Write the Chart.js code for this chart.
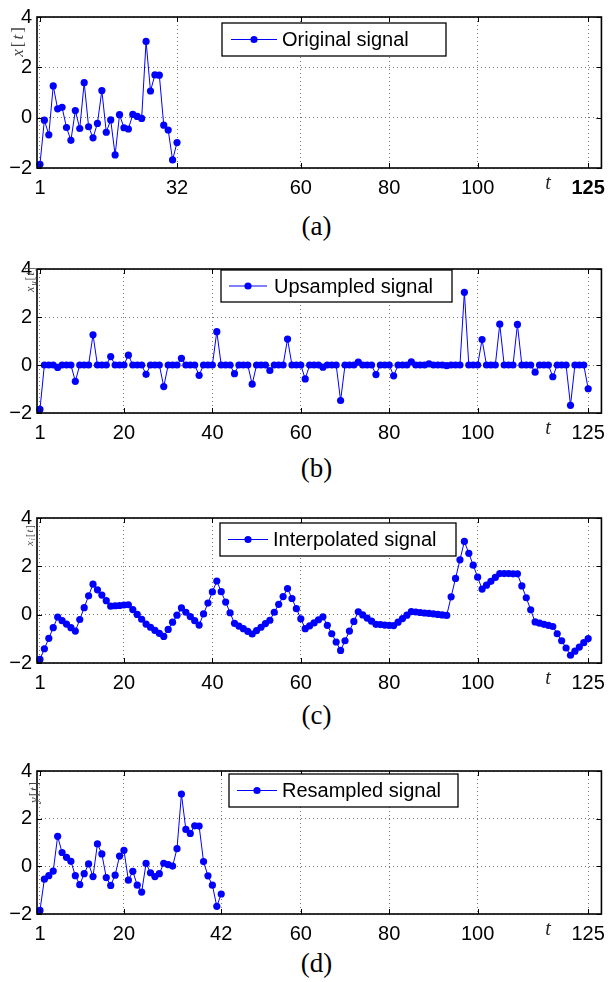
<!DOCTYPE html>
<html>
<head>
<meta charset="utf-8">
<script src="https://cdn.jsdelivr.net/npm/chart.js@4.4.0/dist/chart.umd.min.js"></script>
<style>
  body { margin: 0; background: #fff; }
  #page { position: relative; width: 613px; height: 982px; overflow: hidden; }
  canvas { position: absolute; left: 0; }
  .cap { position: absolute; left: 10px; width: 613px; text-align: center;
         font: 27px "Liberation Serif", "Times New Roman", serif; line-height: 30px; }
</style>
</head>
<body>
<div id="page">
  <canvas id="chartA" width="613" height="198" style="top:0px"></canvas>
  <div class="cap" style="top:211px">(a)</div>
  <canvas id="chartB" width="613" height="191" style="top:252px"></canvas>
  <div class="cap" style="top:453px">(b)</div>
  <canvas id="chartC" width="613" height="192" style="top:501px"></canvas>
  <div class="cap" style="top:700px">(c)</div>
  <canvas id="chartD" width="613" height="190" style="top:754px"></canvas>
  <div class="cap" style="top:948px">(d)</div>
</div>
<script>
// values
const originalSignal = [-1.85, -0.10, -0.68, 1.26, 0.35, 0.41, -0.39, -0.90, 0.28, -0.43,
  1.39, -0.36, -0.80, -0.23, 1.08, -0.58, -0.09, -1.48, 0.12, -0.40, -0.45, 0.13, 0.05,
  -0.03, 3.03, 1.06, 1.70, 1.69, -0.30, -0.49, -1.68, -0.99];

const upsampledSignal = [
  -1.85, 0, 0, 0, -0.10, 0, 0, 0, -0.68, 0, 0, 0, 1.26, 0, 0, 0, 0.35, 0, 0, 0,
  0.41, 0, 0, 0, -0.39, 0, 0, 0, -0.90, 0, 0, 0, 0.28, 0, 0, 0, -0.43, 0, 0, 0,
  1.39, 0, 0, 0, -0.36, 0, 0, 0, -0.80, 0, 0, 0, -0.23, 0, 0, 0, 1.08, 0, 0, 0,
  -0.58, 0, 0, 0, -0.09, 0, 0, 0, -1.48, 0, 0, 0, 0.12, 0, 0, 0, -0.40, 0, 0, 0,
  -0.45, 0, 0, 0, 0.13, 0, 0, 0, 0.05, 0, 0, 0, -0.03, 0, 0, 0, 3.03, 0, 0, 0,
  1.06, 0, 0, 0, 1.70, 0, 0, 0, 1.69, 0, 0, 0, -0.30, 0, 0, 0, -0.49, 0, 0, 0,
  -1.68, 0, 0, 0, -0.99];

const interpolatedSignal = [
  -1.85, -1.41, -0.98, -0.54, -0.10, -0.25, -0.39, -0.54, -0.68, -0.20, 0.29, 0.78,
  1.26, 1.03, 0.81, 0.58, 0.35, 0.37, 0.38, 0.40, 0.41, 0.21, 0.01, -0.19,
  -0.39, -0.52, -0.65, -0.77, -0.90, -0.61, -0.31, -0.02, 0.28, 0.10, -0.08, -0.25,
  -0.43, 0.03, 0.48, 0.94, 1.39, 0.95, 0.52, 0.08, -0.36, -0.47, -0.58, -0.69,
  -0.80, -0.66, -0.52, -0.37, -0.23, 0.10, 0.43, 0.75, 1.08, 0.67, 0.25, -0.17,
  -0.58, -0.46, -0.34, -0.21, -0.09, -0.44, -0.79, -1.13, -1.48, -1.08, -0.68, -0.28,
  0.12, -0.01, -0.14, -0.27, -0.40, -0.41, -0.43, -0.44, -0.45, -0.31, -0.16, -0.02,
  0.13, 0.11, 0.09, 0.07, 0.05, 0.03, 0.01, -0.01, -0.03, 0.74, 1.50, 2.27,
  3.03, 2.54, 2.05, 1.55, 1.06, 1.22, 1.38, 1.54, 1.70, 1.70, 1.70, 1.69,
  1.69, 1.19, 0.70, 0.20, -0.30, -0.35, -0.40, -0.44, -0.49, -0.79, -1.08, -1.38,
  -1.68, -1.51, -1.34, -1.16, -0.99];

const resampledSignal = [-1.85, -0.54, -0.39, -0.20, 1.26, 0.58, 0.38, 0.21, -0.39, -0.77,
  -0.31, 0.10, -0.43, 0.94, 0.52, -0.47, -0.80, -0.37, 0.43, 0.67, -0.58, -0.21,
  -0.79, -1.08, 0.12, -0.27, -0.43, -0.31, 0.13, 0.07, 0.01, 0.74, 3.03, 1.55,
  1.38, 1.70, 1.69, 0.20, -0.40, -0.79, -1.68, -1.16];

const ticksA = [1, 32, 60, 80, 100, 125];
const ticksBC = [1, 20, 40, 60, 80, 100, 125];
const ticksD = [1, 20, 42, 60, 80, 100, 125];
const yTicks = [-2, 0, 2, 4];

const SANS = '"Liberation Sans", Arial, Helvetica, sans-serif';
const SERIF = '"Liberation Serif", "Times New Roman", serif';
const BLUE = '#0000ff';

function drawLegend(ctx, lg) {
  ctx.fillStyle = '#fff';
  ctx.fillRect(lg.x, lg.y, lg.w, lg.h);
  ctx.strokeStyle = '#000';
  ctx.lineWidth = 1.3;
  ctx.strokeRect(lg.x, lg.y, lg.w, lg.h);
  const my = lg.y + lg.h / 2;
  ctx.strokeStyle = BLUE;
  ctx.lineWidth = 1;
  ctx.beginPath();
  ctx.moveTo(lg.l1, my);
  ctx.lineTo(lg.l2, my);
  ctx.stroke();
  ctx.fillStyle = BLUE;
  ctx.beginPath();
  ctx.arc(lg.m, my, 3.6, 0, Math.PI * 2);
  ctx.fill();
  ctx.fillStyle = '#000';
  ctx.font = '20px ' + SANS;
  ctx.textBaseline = 'middle';
  ctx.textAlign = 'left';
  ctx.fillText(lg.text, lg.tx, my + 1);
}

// rotated math-style axis label, e.g. x_u[t]
function drawYLabel(ctx, yl) {
  const parts = [[yl.v, 'i']];
  if (yl.sub) parts.push([yl.sub, 's']);
  parts.push(['[', 'n'], ['t', 'i'], [']', 'n']);
  const fontOf = st => (st === 'n' ? '' : 'italic ') + (st === 's' ? yl.size * 0.7 : yl.size) + 'px ' + SERIF;
  let total = 0;
  parts.forEach(p => { ctx.font = fontOf(p[1]); total += ctx.measureText(p[0]).width + yl.gap; });
  ctx.save();
  ctx.translate(yl.x, yl.y);
  ctx.rotate(-Math.PI / 2);
  ctx.fillStyle = '#444';
  ctx.textBaseline = 'middle';
  ctx.textAlign = 'left';
  let px = -total / 2;
  parts.forEach(p => {
    ctx.font = fontOf(p[1]);
    ctx.fillText(p[0], px, p[1] === 's' ? yl.size * 0.3 : 0);
    px += ctx.measureText(p[0]).width + yl.gap;
  });
  ctx.restore();
}

const panelDeco = {
  id: 'panelDeco',
  afterDraw(chart, args, opts) {
    const ctx = chart.ctx;
    const a = chart.chartArea;
    const xs = chart.scales.x, ys = chart.scales.y;
    ctx.save();
    // tick marks inside the box, like MATLAB
    ctx.strokeStyle = '#000';
    ctx.lineWidth = 1;
    ctx.beginPath();
    xs.ticks.forEach(t => {
      const px = Math.round(xs.getPixelForValue(t.value)) + 0.5;
      ctx.moveTo(px, a.bottom); ctx.lineTo(px, a.bottom - 5);
      ctx.moveTo(px, a.top); ctx.lineTo(px, a.top + 5);
    });
    ys.ticks.forEach(t => {
      const py = Math.round(ys.getPixelForValue(t.value)) + 0.5;
      ctx.moveTo(a.left, py); ctx.lineTo(a.left + 5, py);
      ctx.moveTo(a.right, py); ctx.lineTo(a.right - 5, py);
    });
    ctx.stroke();
    ctx.lineWidth = 1.6;
    ctx.strokeRect(a.left, a.top, a.right - a.left, a.bottom - a.top);

    drawLegend(ctx, opts.legendBox);
    drawYLabel(ctx, opts.yLabel);

    // the t beside the x ticks
    ctx.fillStyle = '#222';
    ctx.font = 'italic 20px ' + SERIF;
    ctx.textAlign = 'center';
    ctx.textBaseline = 'middle';
    ctx.fillText('t', 548, a.bottom + 16);
    ctx.restore();
  }
};

function makePanel(id, values, xTicks, plotH, legendBox, yLabel, boldEnd) {
  const canvas = document.getElementById(id);
  return new Chart(canvas, {
    type: 'line',
    data: {
      datasets: [{
        data: values.map((v, i) => ({ x: i + 1, y: v })),
        borderColor: BLUE,
        borderWidth: 1,
        pointRadius: 3.6,
        pointBackgroundColor: BLUE,
        pointBorderWidth: 0,
        tension: 0,
        clip: false
      }]
    },
    options: {
      responsive: false,
      animation: false,
      layout: { padding: { top: 13, right: 6, left: 0, bottom: 0 } },
      plugins: {
        legend: { display: false },
        tooltip: { enabled: false },
        panelDeco: { legendBox, yLabel }
      },
      scales: {
        x: {
          type: 'linear',
          min: 0.33,
          max: 128,
          afterBuildTicks: axis => { axis.ticks = xTicks.map(v => ({ value: v })); },
          afterFit: axis => { axis.height = canvas.height - 13 - plotH; },
          grid: { color: '#777', lineWidth: 1, drawTicks: false },
          border: { display: false, dash: [1, 3] },
          ticks: {
            autoSkip: false,
            maxRotation: 0,
            padding: 8,
            color: '#000',
            font: c => ({ size: 20, family: SANS,
              weight: (boldEnd && c.tick && c.tick.value === 125) ? 'bold' : 'normal' }),
            callback: v => String(v)
          }
        },
        y: {
          min: -2,
          max: 4,
          afterBuildTicks: axis => { axis.ticks = yTicks.map(v => ({ value: v })); },
          afterFit: axis => { axis.width = 37; },
          grid: { color: '#777', lineWidth: 1, drawTicks: false },
          border: { display: false, dash: [1, 3] },
          ticks: {
            padding: 5,
            color: '#000',
            font: { size: 20, family: SANS },
            callback: v => (v < 0 ? '\u2212' + (-v) : String(v))
          }
        }
      }
    },
    plugins: [panelDeco]
  });
}

makePanel('chartA', originalSignal, ticksA, 155,
  { x: 222, y: 23, w: 224, h: 33, l1: 231, l2: 277, m: 254, tx: 282, text: 'Original signal' },
  { v: 'x', sub: '', x: 19, y: 41, size: 17, gap: 2 }, true);

makePanel('chartB', upsampledSignal, ticksBC, 148,
  { x: 221, y: 18, w: 231, h: 32, l1: 229, l2: 267, m: 248, tx: 274, text: 'Upsampled signal' },
  { v: 'x', sub: 'u', x: 30.5, y: 27, size: 12, gap: 1 }, false);

makePanel('chartC', interpolatedSignal, ticksBC, 149,
  { x: 220, y: 22, w: 236, h: 33, l1: 228, l2: 268, m: 248, tx: 273, text: 'Interpolated signal' },
  { v: 'x', sub: 'i', x: 30, y: 34, size: 10.5, gap: 1 }, false);

makePanel('chartD', resampledSignal, ticksD, 147,
  { x: 229, y: 20, w: 229, h: 33, l1: 237, l2: 277, m: 257, tx: 282, text: 'Resampled signal' },
  { v: 'y', sub: '', x: 35, y: 38, size: 13, gap: 1 }, false);
</script>
</body>
</html>
